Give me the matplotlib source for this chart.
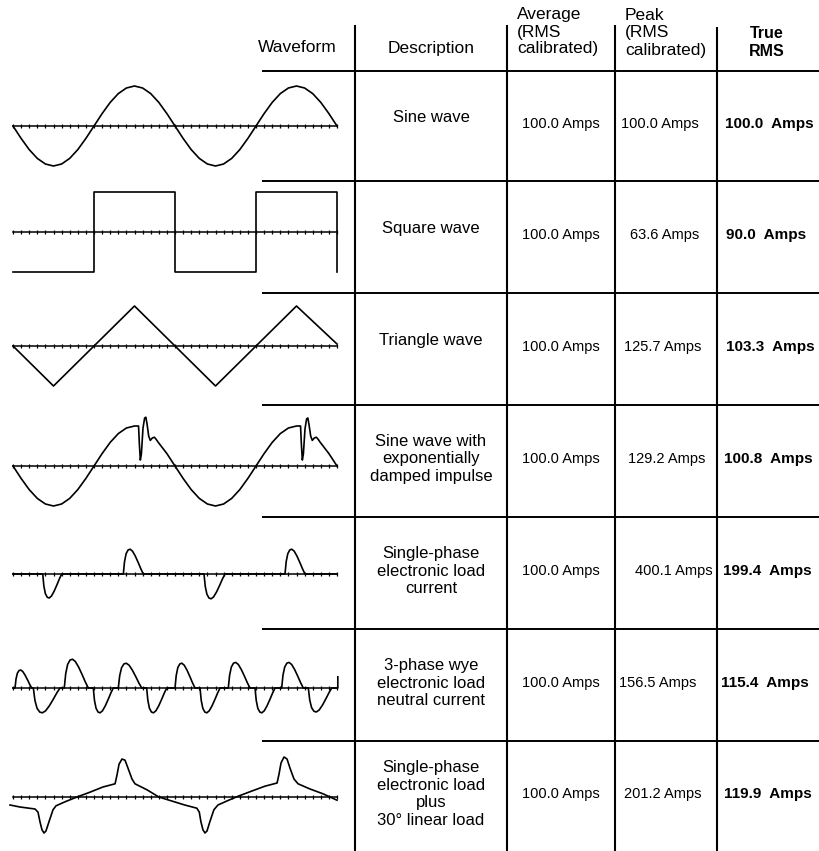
import numpy as np
import matplotlib.pyplot as plt

plt.rcParams['font.family'] = ['Liberation Sans', 'DejaVu Sans']

# ---- table data ----
header_waveform = "Waveform"
header_description = "Description"
header_average = ["Average", "(RMS", "calibrated)"]
header_peak = ["Peak", "(RMS", "calibrated)"]
header_true = ["True", "RMS"]

descriptions = [
    ["Sine wave"],
    ["Square wave"],
    ["Triangle wave"],
    ["Sine wave with", "exponentially", "damped impulse"],
    ["Single-phase", "electronic load", "current"],
    ["3-phase wye", "electronic load", "neutral current"],
    ["Single-phase", "electronic load", "plus", "30\u00b0 linear load"],
]
average_amps = [100.0, 100.0, 100.0, 100.0, 100.0, 100.0, 100.0]
peak_amps = [100.0, 63.6, 125.7, 129.2, 400.1, 156.5, 201.2]
true_rms_amps = [100.0, 90.0, 103.3, 100.8, 199.4, 115.4, 119.9]

# ---- waveform traces (x in axis ticks, 20 ticks per cycle; y in sine amplitudes) ----
sine_t = list(range(41))
sine_y = [0, -0.31, -0.59, -0.81, -0.95, -1, -0.95, -0.81, -0.59, -0.31,
          0, 0.31, 0.59, 0.81, 0.95, 1, 0.95, 0.81, 0.59, 0.31,
          0, -0.31, -0.59, -0.81, -0.95, -1, -0.95, -0.81, -0.59, -0.31,
          0, 0.31, 0.59, 0.81, 0.95, 1, 0.95, 0.81, 0.59, 0.31, 0]

square_t = [0, 10, 10, 20, 20, 30, 30, 40, 40]
square_y = [-1, -1, 1, 1, -1, -1, 1, 1, -1]

triangle_t = [0, 5, 15, 25, 35, 40]
triangle_y = [0, -1, 1, -1, 1, 0.05]

damped_t = [0, 1, 2, 3, 4, 5, 6, 7, 8, 9, 10, 11, 12, 13, 14, 15,
            15.5, 15.6, 15.72, 15.85, 16.05, 16.25, 16.4, 16.55, 16.75, 16.95,
            17.2, 17.45, 17.7, 17.9, 19, 20,
            21, 22, 23, 24, 25, 26, 27, 28, 29, 30, 31, 32, 33, 34, 35,
            35.5, 35.6, 35.72, 35.85, 36.05, 36.25, 36.4, 36.55, 36.75, 36.95,
            37.2, 37.45, 37.7, 37.9, 39, 40]
damped_y = [0, -0.31, -0.59, -0.81, -0.95, -1, -0.95, -0.81, -0.59, -0.31,
            0, 0.31, 0.59, 0.81, 0.95, 1,
            1.0, 0.55, 0.15, 0.3, 0.95, 1.2, 1.22, 1.05, 0.75, 0.64,
            0.7, 0.72, 0.66, 0.6, 0.31, 0,
            -0.31, -0.59, -0.81, -0.95, -1, -0.95, -0.81, -0.59, -0.31,
            0, 0.31, 0.59, 0.81, 0.95, 1,
            1.0, 0.55, 0.15, 0.3, 0.93, 1.18, 1.2, 1.03, 0.75, 0.64,
            0.7, 0.72, 0.66, 0.6, 0.31, 0]

# shape of one load-current hump (fraction of width, fraction of peak)
hump_x = [0, 0.06, 0.14, 0.24, 0.34, 0.46, 0.6, 0.75, 0.88, 1.0]
hump_y = [0, 0.5, 0.82, 0.97, 1.0, 0.92, 0.72, 0.45, 0.2, 0]

single_start = [3.67, 13.62, 23.58, 33.58]
single_end = [6.01, 16.09, 26.17, 36.05]
single_peak = [-0.6, 0.62, -0.62, 0.62]

wye_start = [0.25, 2.51, 6.33, 9.91, 13.0, 16.5, 20.0, 23.09, 26.58, 29.88, 33.17, 36.46]
wye_end = [2.31, 5.8, 9.3, 12.38, 15.89, 18.98, 22.47, 25.56, 29.26, 32.35, 35.84, 39.35]
wye_peak = [0.45, -0.62, 0.72, -0.62, 0.62, -0.62, 0.62, -0.62, 0.64, -0.62, 0.64, -0.6]
wye_tail_t = [40.1, 40.1]
wye_tail_y = [0, 0.28]

mixed_t = [-0.37, 0.86, 2.72, 3.09, 3.33, 3.58, 3.83, 4.07, 4.44, 4.94, 5.31,
           6.42, 7.9, 9.5, 11.1, 12.6, 12.84, 13.09, 13.46, 13.83, 14.2,
           14.69, 15.06, 16.54, 18.0, 19.6, 21.2, 22.7,
           23.0, 23.2, 23.45, 23.7, 23.95, 24.3, 24.8, 25.3, 26.4, 27.8,
           29.5, 31.1, 32.6, 32.84, 33.09, 33.46, 33.83, 34.2, 34.69, 35.19,
           36.67, 38.27, 40.0]
mixed_y = [-0.2, -0.25, -0.3, -0.38, -0.62, -0.82, -0.9, -0.85, -0.62, -0.32, -0.22,
           -0.12, 0, 0.12, 0.25, 0.33, 0.55, 0.82, 0.95, 0.92, 0.72,
           0.45, 0.33, 0.18, 0, -0.1, -0.2, -0.28,
           -0.38, -0.62, -0.82, -0.9, -0.85, -0.62, -0.32, -0.2, -0.1, 0.02,
           0.15, 0.27, 0.35, 0.57, 0.85, 1.0, 0.95, 0.72, 0.45, 0.33,
           0.2, 0.08, -0.08]


def humps(starts, ends, peaks):
    t, y = [0.0], [0.0]
    for s, e, p in zip(starts, ends, peaks):
        t += [s + hx * (e - s) for hx in hump_x]
        y += [p * hy for hy in hump_y]
    t.append(40.0)
    y.append(0.0)
    return t, y


single_t, single_y = humps(single_start, single_end, single_peak)
wye_t, wye_y = humps(wye_start, wye_end, wye_peak)
wye_t += wye_tail_t
wye_y += wye_tail_y

waves = [(sine_t, sine_y), (square_t, square_y), (triangle_t, triangle_y),
         (damped_t, damped_y), (single_t, single_y), (wye_t, wye_y),
         (mixed_t, mixed_y)]

# ---- layout (pixels) ----
W, H = 820, 851
row_tops = [71, 181, 293, 405, 517, 629, 741]
row_bottom = 851
wave_axis_y = [126, 232, 346, 466, 574, 688, 797]
col_lines = [(355, 25), (507, 25), (615, 25), (717, 27)]
rule_left = 262
peak_x = [660, 665, 663, 667, 674, 658, 663]
true_x = [769, 766, 770, 768, 767, 765, 768]
tick_px = 8.1
amp_px = 40

fig = plt.figure(figsize=(W / 100, H / 100), dpi=100)
table = fig.add_axes([0, 0, 1, 1])
table.set_xlim(0, W)
table.set_ylim(H, 0)
table.axis('off')

for x, top in col_lines:
    table.plot([x, x], [top, H], color='black', lw=1.5, solid_capstyle='butt')
for y in row_tops:
    table.plot([rule_left, W], [y, y], color='black', lw=1.4, solid_capstyle='butt')

# header
table.text(297, 47, header_waveform, ha='center', va='center', fontsize=12.5)
table.text(431, 48, header_description, ha='center', va='center', fontsize=12.5)
for line, y in zip(header_average, [15, 32, 49]):
    table.text(517, y, line, ha='left', va='center', fontsize=12.5)
for line, y in zip(header_peak, [15, 32, 50]):
    table.text(625, y, line, ha='left', va='center', fontsize=12.5)
for line, y in zip(header_true, [33, 51]):
    table.text(767, y, line, ha='center', va='center', fontsize=11.5,
               fontweight='bold')

# body
for i, top in enumerate(row_tops):
    bottom = row_tops[i + 1] if i + 1 < len(row_tops) else row_bottom
    cy = (top + bottom) / 2
    lines = descriptions[i]
    n = len(lines)
    dy = -8 if n == 1 else -2
    for k, line in enumerate(lines):
        table.text(431, cy + dy + (k - (n - 1) / 2) * 17.5, line,
                   ha='center', va='center', fontsize=12)
    table.text(561, cy - 2, f"{average_amps[i]:.1f} Amps", ha='center',
               va='center', fontsize=10.5)
    table.text(peak_x[i], cy - 2, f"{peak_amps[i]:.1f} Amps", ha='center',
               va='center', fontsize=10.5)
    table.text(true_x[i], cy - 2, f"{true_rms_amps[i]:.1f}  Amps", ha='center',
               va='center', fontsize=11, fontweight='bold')

# waveforms
for (t, y), ay in zip(waves, wave_axis_y):
    x0, x1 = -1.0, 41.0
    y0, y1 = -1.6, 1.6
    left = 13 + x0 * tick_px
    width = (x1 - x0) * tick_px
    height = (y1 - y0) * amp_px
    bottom = H - ay - height / 2
    ax = fig.add_axes([left / W, bottom / H, width / W, height / H])
    ax.set_xlim(x0, x1)
    ax.set_ylim(y0, y1)
    ax.axis('off')
    ax.patch.set_alpha(0)
    ticks = np.arange(41)
    ax.plot([0, 40], [0, 0], color='black', lw=1.1)
    ax.plot(ticks, np.zeros_like(ticks), ls='none', marker='|', ms=3.5,
            mew=0.9, color='black')
    ax.plot(t, y, color='black', lw=1.2, clip_on=False)

fig.savefig('out.png', dpi=100)
